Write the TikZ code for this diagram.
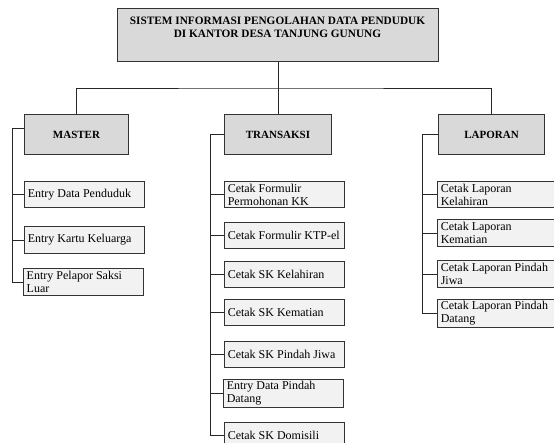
\documentclass[tikz,border=0pt]{standalone}
\usepackage{fontspec}
\setmainfont{Liberation Serif}
\tikzset{
  natsp/.style={execute at begin node={\spaceskip=0pt\xspaceskip=0pt\hyphenpenalty=10000\exhyphenpenalty=10000}},
  mainbox/.style={draw=black!80, line width=1pt, fill=black!15, anchor=north west,
    inner sep=0pt, font=\fontsize{11}{13.6}\selectfont\bfseries},
  titletext/.style={natsp, align=center, inner sep=0pt, font=\fontsize{11.3}{13.6}\selectfont\bfseries},
  subbox/.style={natsp, draw=black!80, line width=1pt, fill=black!5, anchor=north west,
    inner xsep=3.25pt, inner ysep=0pt, text width=113.5pt, minimum height=26pt, align=left,
    font=\fontsize{12}{13}\selectfont},
  conn/.style={draw=black!85, line width=0.9pt}
}
\begin{document}
\begin{tikzpicture}[x=1pt,y=-1pt]
\useasboundingbox (0,0) rectangle (554,443);
% top box
\node[mainbox, minimum width=321pt, minimum height=53pt] (top) at (117,8) {};
\node[titletext] (toptitle) at (277.5,27.5) {SISTEM INFORMASI PENGOLAHAN DATA PENDUDUK\\DI KANTOR DESA TANJUNG GUNUNG};
% level 1
\node[mainbox, minimum width=104pt, minimum height=40pt] (master) at (24,114) {MASTER};
\node[mainbox, minimum width=107pt, minimum height=40pt] (trans) at (224,114) {TRANSAKSI};
\node[mainbox, minimum width=106pt, minimum height=40pt] (lap) at (438,114) {LAPORAN};
% master children
\node[subbox] (m1) at (24,181) {Entry Data Penduduk};
\node[subbox, minimum height=27pt] (m2) at (24,226) {Entry Kartu Keluarga};
\node[subbox, minimum height=27pt] (m3) at (23,268) {Entry Pelapor Saksi\\Luar};
% transaksi children
\node[subbox] (t1) at (224,181) {Cetak Formulir\\Permohonan KK};
\node[subbox] (t2) at (224,222) {Cetak Formulir KTP-el};
\node[subbox] (t3) at (224,261) {Cetak SK Kelahiran};
\node[subbox] (t4) at (224,299) {Cetak SK Kematian};
\node[subbox] (t5) at (224,341) {Cetak SK Pindah Jiwa};
\node[subbox, minimum height=28pt] (t6) at (223,379) {Entry Data Pindah\\Datang};
\node[subbox] (t7) at (224,422) {Cetak SK Domisili};
% laporan children
\node[subbox] (l1) at (437,181) {Cetak Laporan\\Kelahiran};
\node[subbox, minimum height=27pt] (l2) at (437,219) {Cetak Laporan\\Kematian};
\node[subbox, minimum height=27pt] (l3) at (437,260) {Cetak Laporan Pindah\\Jiwa};
\node[subbox, minimum height=28pt] (l4) at (437,299) {Cetak Laporan Pindah\\Datang};
% bus
\coordinate (bus) at (0,88);
\draw[conn] (top.south) -- (top.south |- bus);
\draw[conn] (master.north) |- (top.south |- bus) -| (lap.north);
\draw[conn] (trans.north) -- (trans.north |- bus);
% spines
\coordinate (mspine) at (12,0);
\coordinate (tspine) at (210,0);
\coordinate (lspine) at (422.5,0);
\draw[conn] ([yshift=6pt]master.west) -| (mspine |- m3.west) -- (m3.west);
\draw[conn] (m1.west) -- (m1.west -| mspine);
\draw[conn] (m2.west) -- (m2.west -| mspine);
\draw[conn] (trans.west) -| (tspine |- t7.west) -- (t7.west);
\foreach \n in {t1,t2,t3,t4,t5,t6}{\draw[conn] (\n.west) -- (\n.west -| tspine);}
\draw[conn] (lap.west) -| (lspine |- l4.west) -- (l4.west);
\foreach \n in {l1,l2,l3}{\draw[conn] (\n.west) -- (\n.west -| lspine);}
\end{tikzpicture}
\end{document}
